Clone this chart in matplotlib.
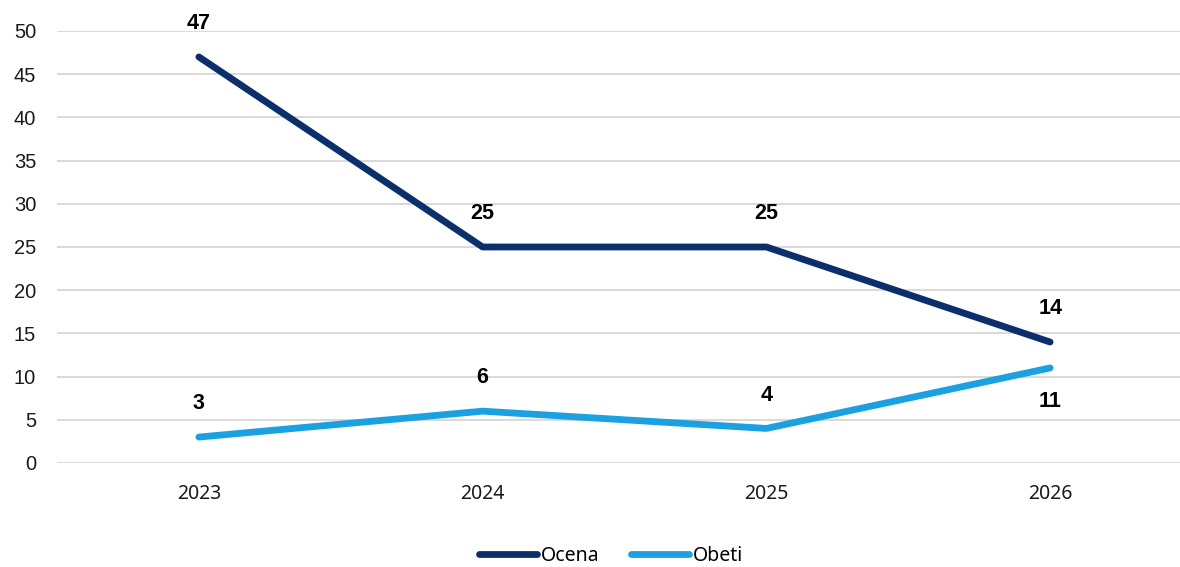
import matplotlib
matplotlib.use("Agg")
import matplotlib.pyplot as plt

years = ["2023", "2024", "2025", "2026"]
ocena = [47, 25, 25, 14]
obeti = [3, 6, 4, 11]
ocena_label_pos = ["above", "above", "above", "above"]
obeti_label_pos = ["above", "above", "above", "below"]

c_ocena = "#0C2F6B"
c_obeti = "#1BA1E2"

fig = plt.figure(figsize=(11.8, 5.67), dpi=100)
ax = fig.add_axes([57/1180, 1 - 463/567, (1192 - 57)/1180, (463 - 31)/567])

x = list(range(len(years)))
ax.plot(x, ocena, color=c_ocena, lw=4.9, solid_capstyle="round", solid_joinstyle="round", label="Ocena", zorder=3)
ax.plot(x, obeti, color=c_obeti, lw=4.9, solid_capstyle="round", solid_joinstyle="round", label="Obeti", zorder=3)

for xs, vals, poss in [(x, ocena, ocena_label_pos), (x, obeti, obeti_label_pos)]:
    for xi, v, p in zip(xs, vals, poss):
        off = 24 if p == "above" else -24
        ax.annotate(str(v), (xi, v), xytext=(0, off), textcoords="offset points",
                    ha="center", va="center", fontsize=15.5, fontweight="bold",
                    family="Liberation Sans", color="#000000")

ax.set_xlim(-0.5, 3.5)
ax.set_ylim(0, 50)
ax.set_yticks(range(0, 51, 5))
ax.set_xticks(x)
ax.set_xticklabels(years, family="Noto Sans", fontsize=14)
for lbl in ax.get_yticklabels():
    lbl.set_family("Liberation Sans")
    lbl.set_fontsize(14.5)
ax.tick_params(axis="y", length=0, pad=15, colors="#1A1A1A")
ax.tick_params(axis="x", length=0, pad=15, colors="#1A1A1A")
ax.grid(axis="y", color="#D9D9D9", lw=1.4, zorder=0)
ax.set_axisbelow(True)
for s in ax.spines.values():
    s.set_visible(False)

leg = fig.legend(loc="center", bbox_to_anchor=(611/1180, 1 - 556/567), ncol=2, frameon=False,
                 prop={"family": "Noto Sans", "size": 14}, handlelength=3.0, handletextpad=0.2,
                 columnspacing=1.6)

fig.savefig("out.png", dpi=100)
